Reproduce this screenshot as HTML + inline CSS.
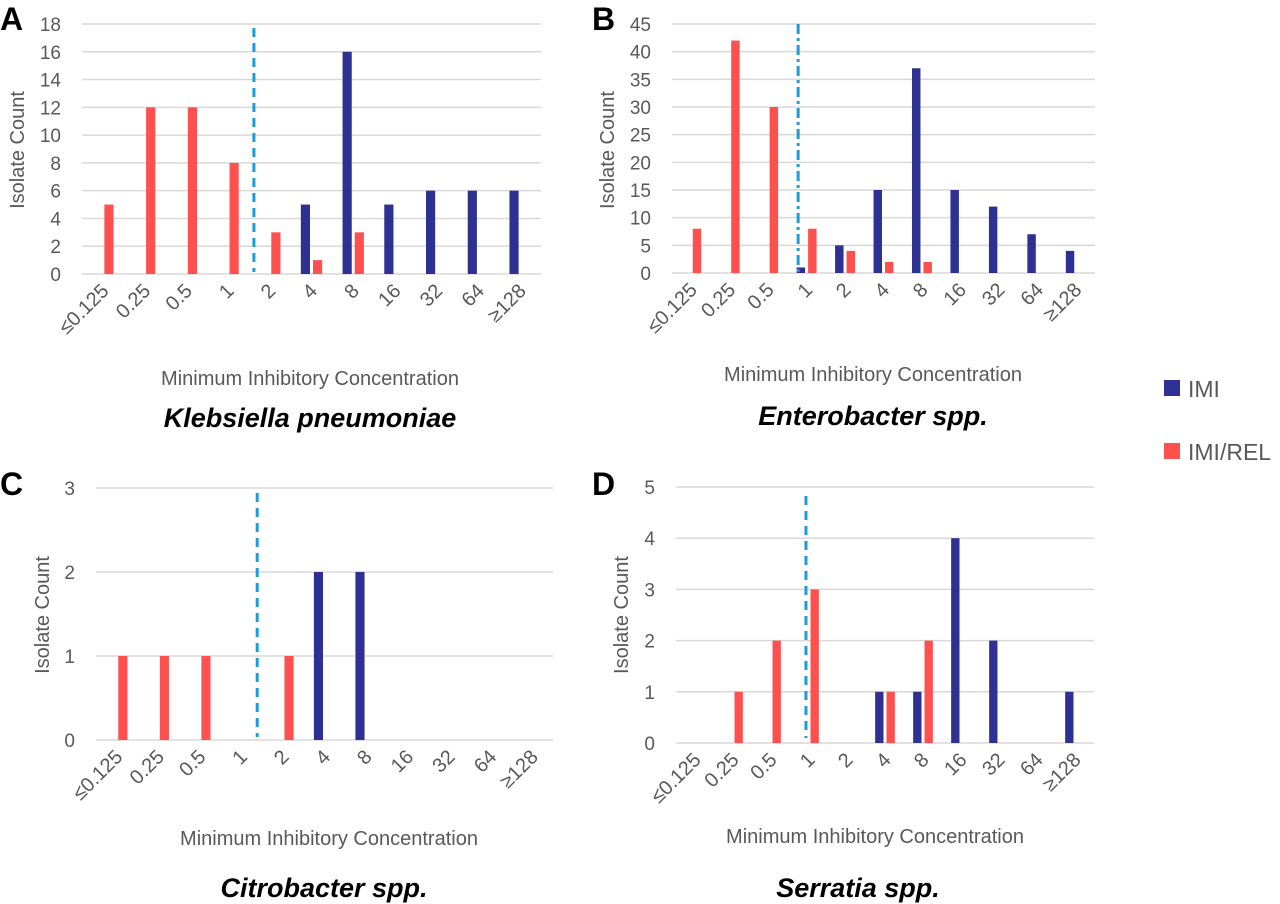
<!DOCTYPE html>
<html><head><meta charset="utf-8"><style>
html,body{margin:0;padding:0;background:#fff;}
svg{display:block;font-family:"Liberation Sans",sans-serif;}
</style></head><body>
<svg id="chart" width="1280" height="904" viewBox="0 0 1280 904" xmlns="http://www.w3.org/2000/svg">
<g>
  <rect x="1164" y="380" width="16" height="16" fill="#2E3192"/>
  <text x="1188" y="397" font-size="23" fill="#595959">IMI</text>
  <rect x="1164" y="443" width="16" height="16" fill="#FF5050"/>
  <text x="1188" y="460" font-size="23" fill="#595959">IMI/REL</text>
</g>
</svg>
<script>
const categories = ["≤0.125","0.25","0.5","1","2","4","8","16","32","64","≥128"];
const imiA = [0,0,0,0,0,5,16,5,6,6,6];
const relA = [5,12,12,8,3,1,3,0,0,0,0];
const ticksA = [0,2,4,6,8,10,12,14,16,18];
const imiB = [0,0,0,1,5,15,37,15,12,7,4];
const relB = [8,42,30,8,4,2,2,0,0,0,0];
const ticksB = [0,5,10,15,20,25,30,35,40,45];
const imiC = [0,0,0,0,0,2,2,0,0,0,0];
const relC = [1,1,1,0,1,0,0,0,0,0,0];
const ticksC = [0,1,2,3];
const imiD = [0,0,0,0,0,1,1,4,2,0,1];
const relD = [0,1,2,3,0,1,2,0,0,0,0];
const ticksD = [0,1,2,3,4,5];
const breakpointA = 3.62, breakpointB = 2.78, breakpointC = 3.38, breakpointD = 2.92;

const NS = "http://www.w3.org/2000/svg";
const svg = document.getElementById('chart');
function mk(tag, attrs, parent){
  const e = document.createElementNS(NS, tag);
  for (const k in attrs) e.setAttribute(k, attrs[k]);
  (parent||svg).appendChild(e);
  return e;
}
const panels = [
  {id:'a', letter:'A', lx:0, ly:30, x0:82, x1:541, yb:274, yt:24, imi:imiA, rel:relA, ticks:ticksA, bp:breakpointA, dlTop:28, dlBot:272, dash:"9,6", tickR:61, ytx:24, yty:150, atx:310, aty:385, stx:310, sty:427, species:'Klebsiella pneumoniae'},
  {id:'b', letter:'B', lx:592, ly:30, x0:672, x1:1095, yb:273, yt:24, imi:imiB, rel:relB, ticks:ticksB, bp:breakpointB, dlTop:24, dlBot:273, dash:"10,4,3,4", tickR:651, ytx:614, yty:150, atx:873, aty:381, stx:873, sty:425, species:'Enterobacter spp.'},
  {id:'c', letter:'C', lx:0, ly:495, x0:96, x1:553, yb:740, yt:488, imi:imiC, rel:relC, ticks:ticksC, bp:breakpointC, dlTop:493, dlBot:737, dash:"9,6", tickR:75, ytx:49, yty:615, atx:329, aty:845, stx:324, sty:897, species:'Citrobacter spp.'},
  {id:'d', letter:'D', lx:592, ly:495, x0:676, x1:1094, yb:743, yt:487, imi:imiD, rel:relD, ticks:ticksD, bp:breakpointD, dlTop:496, dlBot:738, dash:"9,6", tickR:655, ytx:628, yty:615, atx:875, aty:843, stx:858, sty:897, species:'Serratia spp.'}
];
panels.forEach(p => {
  const g = mk('g', {});
  
  
  const n = categories.length;
  const step = (p.x1 - p.x0) / n;
  const maxV = p.ticks[p.ticks.length - 1];
  const xc = i => p.x0 + step * (i + 0.5);
  const y = v => p.yb - (p.yb - p.yt) * v / maxV;
  const bw = step * 0.22;
  p.ticks.forEach(t => {
    const l = mk('line', {x1:p.x0, x2:p.x1, y1:y(t), y2:y(t), stroke:'#D9D9D9', 'stroke-width':1.5}, g);
    
    
    const tx = mk('text', {x:p.tickR, y:y(t)+7, 'text-anchor':'end', 'font-size':19, fill:'#595959'}, g);
    
    
    tx.textContent = t;
  });
  categories.forEach((c, i) => {
    if (p.imi[i] > 0) {
      const r = mk('rect', {x:xc(i)-1.5-bw, y:y(p.imi[i]), width:bw, height:p.yb-y(p.imi[i]), fill:'#2E3192'}, g);
      
      
    }
    if (p.rel[i] > 0) {
      const r = mk('rect', {x:xc(i)+1.5, y:y(p.rel[i]), width:bw, height:p.yb-y(p.rel[i]), fill:'#FF5050'}, g);
      
      
    }
    const lx = xc(i) + 7, ly = p.yb + 18;
    const t = mk('text', {x:lx, y:ly, 'text-anchor':'end', 'font-size':20, fill:'#595959', transform:`rotate(-45 ${lx} ${ly})`}, g);
    
    
    t.textContent = c;
  });
  const bx = xc(p.bp);
  const dl = mk('line', {x1:bx, x2:bx, y1:p.dlTop, y2:p.dlBot, stroke:'#1F9BD7', 'stroke-width':3, 'stroke-dasharray':p.dash}, g);
  
  
  const L = mk('text', {x:p.lx, y:p.ly, 'font-size':32, 'font-weight':'bold', fill:'#000'}, g);
  
  
  L.textContent = p.letter;
  const yt = mk('text', {x:p.ytx, y:p.yty, 'text-anchor':'middle', 'font-size':20, fill:'#595959', transform:`rotate(-90 ${p.ytx} ${p.yty})`}, g);
  
  
  yt.textContent = 'Isolate Count';
  const at = mk('text', {x:p.atx, y:p.aty, 'text-anchor':'middle', 'font-size':20, fill:'#595959'}, g);
  
  
  at.textContent = 'Minimum Inhibitory Concentration';
  const st = mk('text', {x:p.stx, y:p.sty, 'text-anchor':'middle', 'font-size':27, 'font-weight':'bold', 'font-style':'italic', fill:'#000'}, g);
  
  
  st.textContent = p.species;
});
</script>
</body></html>
